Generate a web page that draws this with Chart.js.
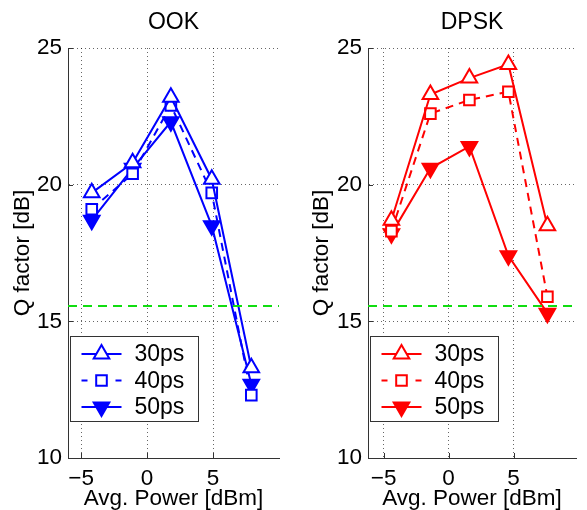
<!DOCTYPE html>
<html>
<head>
<meta charset="utf-8">
<script src="https://cdn.jsdelivr.net/npm/chart.js@4/dist/chart.umd.min.js"></script>
<style>
  body { margin: 0; background: #fff; }
  #wrap { position: relative; width: 587px; height: 510px; overflow: hidden; }
  #wrap canvas { position: absolute; top: 0; }
</style>
</head>
<body>
<div id="wrap">
  <canvas id="ookChart" width="290" height="510" style="left:0"></canvas>
  <canvas id="dpskChart" width="297" height="510" style="left:290px"></canvas>
</div>
<script>
// Q factor vs average launch power, one panel per modulation format
var seriesLabels = ["30ps", "40ps", "50ps"];

var powerOOK = [-4.2, -1.1, 1.8, 4.9, 7.9];
var ookQ30 = [19.7, 20.8, 23.2, 20.2, 13.3];
var ookQ40 = [19.1, 20.4, 22.9, 19.7, 12.3];
var ookQ50 = [18.7, 20.6, 22.3, 18.5, 12.7];

var powerDPSK = [-4.4, -1.4, 1.6, 4.6, 7.6];
var dpskQ30 = [18.7, 23.3, 23.9, 24.4, 18.5];
var dpskQ40 = [18.3, 22.6, 23.1, 23.4, 15.9];
var dpskQ50 = [18.2, 20.6, 21.4, 17.4, 15.3];

var qLimit = 15.56;          // Q threshold line
var xTicks = [-5, 0, 5];
var yTicks = [10, 15, 20, 25];

var FONT = '"Liberation Sans", Arial, Helvetica, sans-serif';
Chart.defaults.color = '#000';
Chart.defaults.font.family = FONT;

var markers = [
    { style: 'triangle', rotation: 0, radius: 9, filled: false, dash: [] },
    { style: 'rect', rotation: 0, radius: 7.5, filled: false, dash: [8, 6] },
    { style: 'triangle', rotation: 180, radius: 9, filled: true, dash: [] }
];

function minusSign(v) {
    return v < 0 ? '\u2212' + Math.abs(v) : String(v);
}

function markerPath(ctx, m, x, y) {
    var r = m.radius;
    ctx.beginPath();
    if (m.style === 'rect') {
        var s = r * Math.SQRT1_2;
        ctx.rect(x - s, y - s, 2 * s, 2 * s);
    } else {
        var d = m.rotation ? -1 : 1;
        ctx.moveTo(x, y - d * r);
        ctx.lineTo(x + 0.866 * r, y + d * 0.5 * r);
        ctx.lineTo(x - 0.866 * r, y + d * 0.5 * r);
        ctx.closePath();
    }
}

// title, inward tick marks and the boxed legend
var panelDecor = {
    id: 'panelDecor',
    afterDraw: function (chart, args, opts) {
        var ctx = chart.ctx, a = chart.chartArea;
        var xs = chart.scales.x, ys = chart.scales.y;
        ctx.save();

        ctx.strokeStyle = '#333';
        ctx.lineWidth = 1;
        ctx.beginPath();
        yTicks.forEach(function (v) {
            var py = Math.round(ys.getPixelForValue(v)) + 0.5;
            ctx.moveTo(a.left, py);
            ctx.lineTo(a.left + 5, py);
        });
        xTicks.forEach(function (v) {
            var px = Math.round(xs.getPixelForValue(v)) + 0.5;
            ctx.moveTo(px, a.bottom);
            ctx.lineTo(px, a.bottom - 5);
        });
        ctx.stroke();

        ctx.fillStyle = '#000';
        ctx.font = '23px ' + FONT;
        ctx.textAlign = 'center';
        ctx.textBaseline = 'middle';
        ctx.fillText(opts.title, (a.left + a.right) / 2, 23);

        var bx = Math.round(a.left + 1.5) + 0.5, by = Math.round(a.bottom - 122.5) + 0.5;
        ctx.fillStyle = '#fff';
        ctx.fillRect(bx, by, 128, 85);
        ctx.strokeStyle = '#333';
        ctx.strokeRect(bx, by, 128, 85);

        var rows = [17.5, 44, 70.5];
        markers.forEach(function (m, i) {
            var cy = by + rows[i];
            ctx.strokeStyle = opts.colour;
            ctx.lineWidth = 2;
            ctx.setLineDash(m.dash.length ? [6, 28] : []);
            ctx.beginPath();
            ctx.moveTo(bx + 11, cy);
            ctx.lineTo(bx + 51, cy);
            ctx.stroke();
            ctx.setLineDash([]);
            markerPath(ctx, m, bx + 31, cy);
            ctx.fillStyle = m.filled ? opts.colour : '#fff';
            ctx.fill();
            ctx.stroke();
            ctx.fillStyle = '#000';
            ctx.font = '23px ' + FONT;
            ctx.textAlign = 'left';
            ctx.fillText(seriesLabels[i], bx + 64, cy + 1);
        });
        ctx.restore();
    }
};

function makePanel(canvasId, title, power, qSeries, colour, xMin, xMax, axisWidth, yTitlePad) {
    var datasets = [{
        label: 'limit',
        data: [{ x: xMin, y: qLimit }, { x: xMax, y: qLimit }],
        borderColor: '#11dd11',
        borderWidth: 2,
        borderDash: [9, 6],
        pointRadius: 0
    }];
    qSeries.forEach(function (q, i) {
        var m = markers[i];
        datasets.push({
            label: seriesLabels[i],
            data: power.map(function (x, k) { return { x: x, y: q[k] }; }),
            borderColor: colour,
            borderWidth: 2,
            borderDash: m.dash,
            pointStyle: m.style,
            pointRotation: m.rotation,
            pointRadius: m.radius,
            pointBorderWidth: 2,
            pointBorderColor: colour,
            pointBackgroundColor: m.filled ? colour : '#fff',
            tension: 0
        });
    });

    return new Chart(document.getElementById(canvasId), {
        type: 'line',
        data: { datasets: datasets },
        plugins: [panelDecor],
        options: {
            responsive: false,
            animation: false,
            layout: { padding: { top: 48, left: 0, right: 0, bottom: 0 } },
            plugins: {
                legend: { display: false },
                tooltip: { enabled: false },
                panelDecor: { title: title, colour: colour }
            },
            scales: {
                x: {
                    type: 'linear',
                    min: xMin,
                    max: xMax,
                    afterBuildTicks: function (s) {
                        s.ticks = xTicks.map(function (v) { return { value: v }; });
                    },
                    afterFit: function (s) { s.height = 52; },
                    ticks: {
                        font: { size: 22.5, lineHeight: 1 },
                        padding: 10,
                        maxRotation: 0,
                        callback: minusSign
                    },
                    grid: { color: 'rgba(0,0,0,0.6)', lineWidth: 1, drawTicks: false },
                    border: { color: '#333', width: 1, dash: [1, 3] },
                    title: {
                        display: true,
                        text: 'Avg. Power [dBm]',
                        font: { size: 22.5, lineHeight: 1 },
                        padding: { top: 0, bottom: 0 }
                    }
                },
                y: {
                    type: 'linear',
                    min: 10,
                    max: 25,
                    afterBuildTicks: function (s) {
                        s.ticks = yTicks.map(function (v) { return { value: v }; });
                    },
                    afterFit: function (s) { s.width = axisWidth; },
                    ticks: {
                        font: { size: 22.5, lineHeight: 1 },
                        padding: 6
                    },
                    grid: { color: 'rgba(0,0,0,0.6)', lineWidth: 1, drawTicks: false },
                    border: { color: '#333', width: 1, dash: [1, 3] },
                    title: {
                        display: true,
                        text: 'Q factor [dB]',
                        font: { size: 22.5, lineHeight: 1 },
                        padding: { top: yTitlePad, bottom: 0 }
                    }
                }
            }
        }
    });
}

makePanel('ookChart', 'OOK', powerOOK, [ookQ30, ookQ40, ookQ50], '#0000ff', -6, 10, 68, 12);
makePanel('dpskChart', 'DPSK', powerDPSK, [dpskQ30, dpskQ40, dpskQ50], '#ff0000', -6.2, 9.8, 78, 21);
</script>
</body>
</html>
